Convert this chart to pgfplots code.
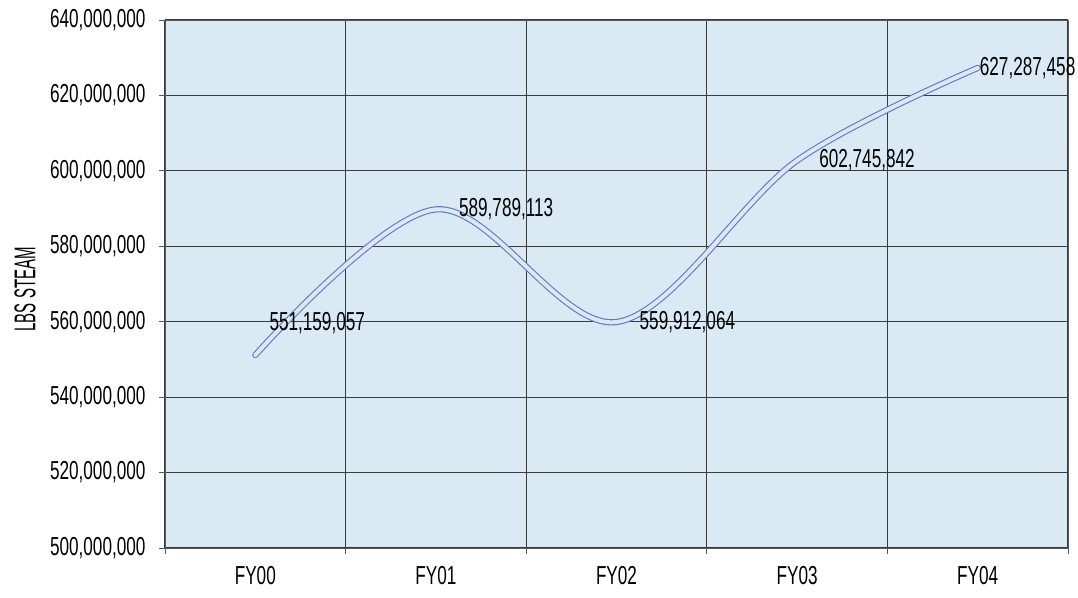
\documentclass[border=0pt]{standalone}
\usepackage{pgfplots}
\pgfplotsset{compat=1.18}
\usepackage{fontspec}
\setmainfont{Liberation Sans}[FakeStretch=0.66]
\newfontfamily\ylfont{Liberation Sans}[FakeStretch=0.5]
\definecolor{bgblue}{HTML}{DAEAF4}
\definecolor{lineblue}{HTML}{6A72C8}
\definecolor{gridc}{HTML}{3A3A3A}
\begin{document}
\begin{tikzpicture}[x=1pt,y=1pt]
\begin{axis}[
  at={(165pt,49pt)}, anchor=south west,
  scale only axis, width=903pt, height=528pt,
  xmin=-0.5, xmax=4.5,
  ymin=500000000, ymax=640000000,
  axis background/.style={fill=bgblue},
  axis line style={draw=gray!70!black, line width=0.9pt},
  xtick={-0.5,0.5,1.5,2.5,3.5,4.5},
  xticklabels={},
  extra x ticks={0,1,2,3,4},
  extra x tick labels={FY00,FY01,FY02,FY03,FY04},
  extra x tick style={grid=none, major tick length=0pt, tick label style={yshift=-15pt}},
  ytick={500000000,520000000,540000000,560000000,580000000,600000000,620000000,640000000},
  yticklabels={{500,000,000},{520,000,000},{540,000,000},{560,000,000},{580,000,000},{600,000,000},{620,000,000},{640,000,000}},
  scaled y ticks=false,
  tick align=outside,
  major tick length=6pt,
  xtick pos=bottom, ytick pos=left,
  tick style={draw=gray!70!black, line width=0.9pt},
  grid=major,
  major grid style={draw=gridc, line width=1.1pt},
  tick label style={font=\fontsize{26}{28}\selectfont, text=black},
  yticklabel style={xshift=-10pt},
  ylabel={\ylfont\fontsize{30}{32}\selectfont LBS STEAM},
  ylabel style={at={(axis description cs:-0.155,0.49)}, anchor=center},
  clip=false,
]
\addplot[draw=lineblue, line width=1.1pt, double=bgblue, double distance=4pt, line cap=round, smooth, tension=0.55]
  coordinates {(0,551159057) (1,589789113) (2,559912064) (3,602745842) (4,627287458)};
\begin{scope}[every node/.style={anchor=west, inner sep=0pt, font=\fontsize{26}{28}\selectfont}]
\node[xshift=14pt, yshift=32pt] at (axis cs:0,551159057) {551,159,057};
\node[xshift=23pt] at (axis cs:1,589789113) {589,789,113};
\node[xshift=23pt] at (axis cs:2,559912064) {559,912,064};
\node[xshift=22pt] at (axis cs:3,602745842) {602,745,842};
\node[xshift=2pt] at (axis cs:4,627287458) {627,287,458};
\end{scope}
\end{axis}
\pgfresetboundingbox
\path[use as bounding box] (0,0) rectangle (1078pt,597pt);
\end{tikzpicture}
\end{document}
